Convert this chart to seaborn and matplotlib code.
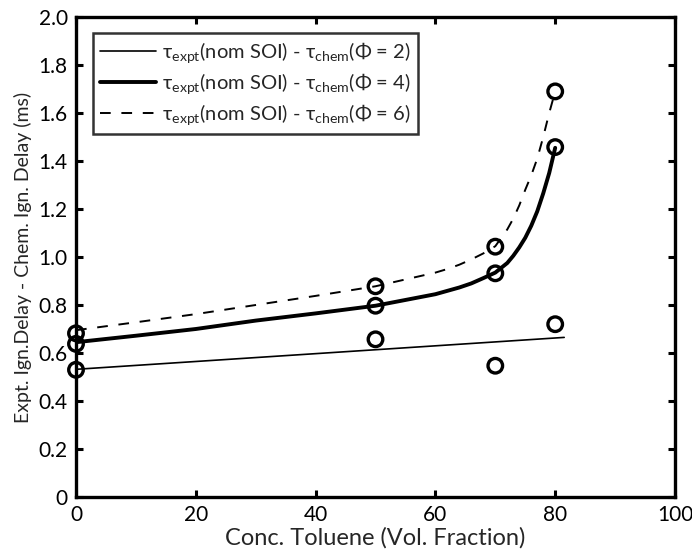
import numpy as np
import pandas as pd
import matplotlib
matplotlib.use("Agg")
import matplotlib.pyplot as plt
import seaborn as sns

# measured points
meas_x = [0, 50, 70, 80]
meas_phi2 = [0.530, 0.657, 0.547, 0.720]
meas_phi4 = [0.638, 0.797, 0.932, 1.458]
meas_phi6 = [0.682, 0.878, 1.043, 1.690]

# fitted curves
fit2_x = [0, 81.5]
fit2_y = [0.532, 0.665]
fit4_x = [0, 10, 20, 30, 40, 50, 60, 64, 66, 68, 70, 71, 72, 73, 74, 75, 76, 77, 78, 79, 80]
fit4_y = [0.645, 0.672, 0.700, 0.735, 0.765, 0.797, 0.845, 0.873, 0.890, 0.912, 0.935, 0.955,
          0.975, 1.005, 1.040, 1.080, 1.130, 1.190, 1.265, 1.350, 1.455]
fit6_x = [0, 10, 20, 30, 40, 50, 60, 62, 64, 66, 68, 70, 71, 72, 73, 74, 75, 76, 77, 78, 79, 80]
fit6_y = [0.695, 0.728, 0.762, 0.800, 0.838, 0.878, 0.935, 0.950, 0.968, 0.990, 1.015, 1.045,
          1.080, 1.115, 1.160, 1.215, 1.280, 1.340, 1.410, 1.500, 1.600, 1.690]

labels = ['τ$_{\\rm expt}$(nom SOI) - τ$_{\\rm chem}$(Φ = 2)',
          'τ$_{\\rm expt}$(nom SOI) - τ$_{\\rm chem}$(Φ = 4)',
          'τ$_{\\rm expt}$(nom SOI) - τ$_{\\rm chem}$(Φ = 6)']

x_ticks = [0, 20, 40, 60, 80, 100]
y_ticks = [0, 0.2, 0.4, 0.6, 0.8, 1.0, 1.2, 1.4, 1.6, 1.8, 2.0]
y_tick_labels = ['0', '0.2', '0.4', '0.6', '0.8', '1.0', '1.2', '1.4', '1.6', '1.8', '2.0']

sns.set_style("white")
plt.rcParams['font.family'] = ['Lato', 'DejaVu Sans']
plt.rcParams['mathtext.fontset'] = 'custom'
plt.rcParams['mathtext.rm'] = 'Lato'
plt.rcParams['mathtext.it'] = 'Lato:italic'
plt.rcParams['mathtext.bf'] = 'Lato:bold'

fig = plt.figure(figsize=(6.92, 5.52), dpi=100)
ax = fig.add_axes([76/692, 1-497/552, (675-76)/692, (497-17)/552])

sns.lineplot(x=fit2_x, y=fit2_y, ax=ax, color='black', lw=1.2, label=labels[0])
sns.lineplot(x=fit4_x, y=fit4_y, ax=ax, color='black', lw=2.8, label=labels[1])
sns.lineplot(x=fit6_x, y=fit6_y, ax=ax, color='black', lw=1.4, label=labels[2])
ax.lines[-1].set_dashes([5.5, 5.5])

for ys in (meas_phi2, meas_phi4, meas_phi6):
    sns.scatterplot(x=meas_x, y=ys, ax=ax, marker='o', s=110, facecolors='none',
                    edgecolors='black', linewidths=2.4, zorder=5, clip_on=False, legend=False)

ax.set_xlim(0, 100)
ax.set_ylim(0, 2.0)
ax.set_xticks(x_ticks)
ax.set_xticklabels([str(t) for t in x_ticks])
ax.set_yticks(y_ticks)
ax.set_yticklabels(y_tick_labels)
ax.tick_params(direction='in', length=5, width=2.2, labelsize=15, top=True, right=True,
               bottom=True, left=True, pad=6, color='black', labelcolor='black')
for s in ax.spines.values():
    s.set_linewidth(2.4)
    s.set_color('black')

ax.set_xlabel('Conc. Toluene (Vol. Fraction)', fontsize=17, labelpad=1)
ax.set_ylabel('Expt. Ign.Delay - Chem. Ign. Delay (ms)', fontsize=14, labelpad=5)

leg = ax.legend(loc='upper left', bbox_to_anchor=(0.028, 0.966), fontsize=14.5, frameon=True,
                fancybox=False, edgecolor='black', handlelength=2.8, handletextpad=0.3,
                borderpad=0.35, labelspacing=0.3, borderaxespad=0)
leg.get_frame().set_linewidth(1.8)

fig.savefig('out.png', dpi=100)
